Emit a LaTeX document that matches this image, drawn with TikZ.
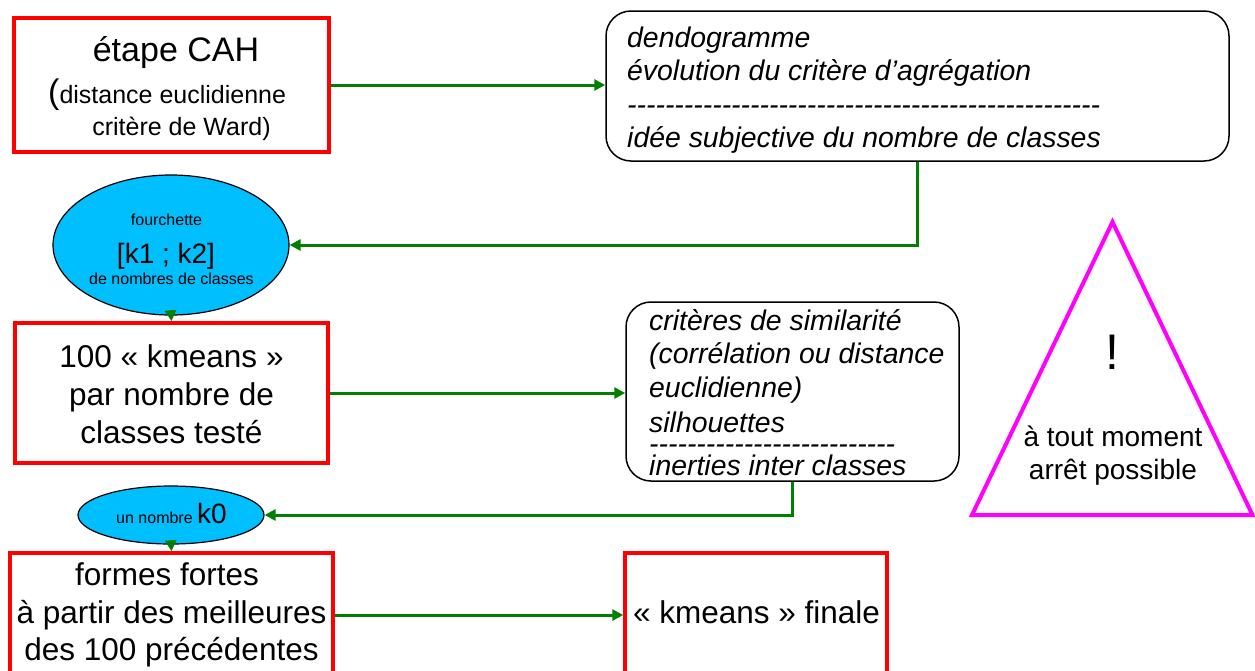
\documentclass[tikz,border=0pt]{standalone}
\usepackage{fontspec}
\setmainfont{Liberation Sans}
\usetikzlibrary{arrows.meta,shapes.geometric}
\definecolor{boxred}{RGB}{255,0,0}
\definecolor{lgreen}{RGB}{0,128,0}
\definecolor{ecyan}{RGB}{0,191,255}
\definecolor{tmag}{RGB}{255,0,255}
\newcommand\fsz[2]{\fontsize{#1}{#2}\selectfont}
\newcount\hycnt
\newcommand\hyrow[1]{\hycnt=0\relax\loop-\kern0pt\advance\hycnt by 1\relax\ifnum\hycnt<#1\relax\repeat}
\begin{document}
\begin{tikzpicture}[x=1pt,y=-1pt,
  redbox/.style={draw=boxred,line width=3.5pt,fill=white,inner sep=0pt},
  roundbox/.style={draw=black,line width=1.5pt,rounded corners=25pt,fill=white,inner sep=0pt},
  ellbox/.style={ellipse,draw=black,line width=1.2pt,fill=ecyan,inner sep=0pt},
  conn/.style={draw=lgreen,line width=3pt,-{Triangle[length=11pt,width=11pt]}},
  txt/.style={inner sep=0pt},
  bigtxt/.style={txt,font=\fsz{31.5}{38}},
  ittxt/.style={txt,font=\itshape\fsz{28.4}{34},anchor=base west},
]
\useasboundingbox (0,0) rectangle (1255,670);

% boxes
\node[redbox,minimum width=315pt,minimum height=134pt] (cah) at (171.5,85) {};
\node[redbox,minimum width=313pt,minimum height=140pt] (km) at (171.5,393) {};
\node[redbox,minimum width=323pt,minimum height=124pt] (ff) at (171.5,615) {};
\node[redbox,minimum width=262pt,minimum height=124pt] (fin) at (756,615) {};
\node[roundbox,minimum width=623pt,minimum height=150pt] (dendo) at (917.5,86) {};
\node[roundbox,minimum width=333pt,minimum height=179pt] (crit) at (792.5,391.5) {};
\node[ellbox,minimum width=236pt,minimum height=140pt] (four) at (171,245) {};
\node[ellbox,minimum width=186pt,minimum height=58pt] (k0) at (171,515) {};

% triangle
\coordinate (ta) at (1112.5,222);
\coordinate (tl) at (972,515);
\coordinate (tr) at (1252.5,515);
\draw[draw=tmag,line width=4pt,line join=miter] (ta) -- (tl) -- (tr) -- cycle;

% box 1 text
\node[txt,font=\fsz{34}{40},anchor=base] (cah1) at (176,61) {étape CAH};
\node[txt,anchor=base west] (cah2) at (48,103) {\fsz{34}{40}(\fsz{25}{30}distance euclidienne};
\node[txt,font=\fsz{25}{30},anchor=base] (cah3) at (181.5,135) {critère de Ward)};

% dendogramme box text
\node[ittxt] (d1) at (627,47) {dendogramme};
\node[ittxt] (d2) at (627,80) {évolution du critère d’agrégation};
\node[ittxt] (d3) at (627,114) {\hyrow{50}};
\node[ittxt] (d4) at (627,147) {idée subjective du nombre de classes};

% ellipse 1 text
\node[txt,font=\fsz{16}{19},anchor=base] (e1a) at (166.5,225) {fourchette};
\node[txt,font=\fsz{28}{32},anchor=base] (e1b) at (166,263) {[k1 ; k2]};
\node[txt,font=\fsz{16}{19},anchor=base] (e1c) at (171.5,284) {de nombres de classes};

% box 2 text
\node[bigtxt,anchor=base] (km1) at (171.5,367) {100 « kmeans »};
\node[bigtxt,anchor=base] (km2) at (171.5,405) {par nombre de};
\node[bigtxt,anchor=base] (km3) at (171.5,443) {classes testé};

% criteria box text
\node[ittxt] (c1) at (649,330) {critères de similarité};
\node[ittxt] (c2) at (649,363) {(corrélation ou distance};
\node[ittxt] (c3) at (649,397) {euclidienne)};
\node[ittxt] (c4) at (649,432) {silhouettes};
\node[ittxt] (c5) at (649,453) {\hyrow{26}};
\node[ittxt] (c6) at (649,475) {inerties inter classes};

% ellipse 2 text
\node[txt,anchor=base] (e2) at (171.5,523) {\fsz{16}{19}un nombre \fsz{28}{32}k0};

% box 3 text
\node[bigtxt,anchor=base] (ff1) at (167,585) {formes fortes};
\node[bigtxt,anchor=base] (ff2) at (171.5,623) {à partir des meilleures};
\node[bigtxt,anchor=base] (ff3) at (171.5,660) {des 100 précédentes};

% box 4 text
\node[bigtxt,anchor=base] (fin1) at (756.5,623) {« kmeans » finale};

% triangle text
\node[txt,font=\fsz{50}{56},anchor=base] (t1) at (1112.5,369) {!};
\node[txt,font=\fsz{28}{34},anchor=base] (t2) at (1113,446) {à tout moment};
\node[txt,font=\fsz{28}{34},anchor=base] (t3) at (1113,479) {arrêt possible};

% connectors
\draw[conn] (cah.east) -- (cah.east -| dendo.west);
\draw[conn] (dendo.south) |- (four.east);
\draw[conn] (four.south) -- (km.north);
\draw[conn] (km.east) -- (km.east -| crit.west);
\draw[conn] (crit.south) |- (k0.east);
\draw[conn] (k0.south) -- (ff.north);
\draw[conn] (ff.east) -- (ff.east -| fin.west);
\end{tikzpicture}
\end{document}
